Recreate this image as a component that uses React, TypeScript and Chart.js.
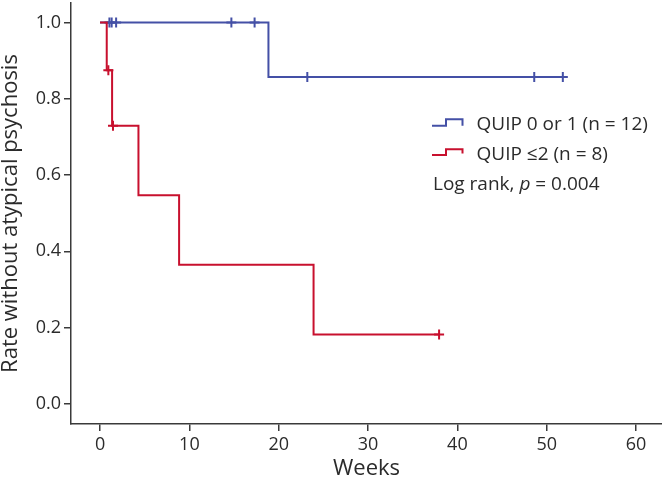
import React, { useEffect, useRef } from "react";
import { Chart, registerables } from "chart.js";

Chart.register(...registerables);

// ---- data ----
const xTicks = [0, 10, 20, 30, 40, 50, 60];
const yTicks = [0, 0.2, 0.4, 0.6, 0.8, 1.0];

const blueTimes = [0, 18.85, 51.8];
const blueSurv = [1, 0.857, 0.857];
const blueCensorTimes = [1.05, 1.3, 1.8, 14.7, 17.3, 23.2, 48.6, 51.8];
const blueCensorSurv = [1, 1, 1, 1, 1, 0.857, 0.857, 0.857];

const redTimes = [0, 0.75, 1.35, 4.3, 8.85, 23.9, 37.95];
const redSurv = [1, 0.875, 0.729, 0.547, 0.365, 0.182, 0.182];
const redCensorTimes = [0.93, 1.45, 37.95];
const redCensorSurv = [0.875, 0.729, 0.182];

const legendLabels = ["QUIP 0 or 1 (n = 12)", "QUIP \u22642 (n = 8)"];
const statParts = ["Log rank, ", "p", " = 0.004"];

const BLUE = "#4450a6";
const RED = "#c8102e";
const AXIS = "#3a3a3a";
const TEXT = "#2b2b2b";
const FONT = "'Open Sans', sans-serif";

const pts = (xs: number[], ys: number[]) => xs.map((x, i) => ({ x, y: ys[i] }));

const legendPlugin = {
  id: "kmLegend",
  afterDraw(chart: any) {
    const ctx = chart.ctx as CanvasRenderingContext2D;
    ctx.save();
    const colors = [BLUE, RED];
    const baselines = [130, 159.5];
    const lowY = [125.7, 155];
    const highY = [119.3, 149.3];
    for (let i = 0; i < 2; i++) {
      ctx.strokeStyle = colors[i];
      ctx.lineWidth = 2;
      ctx.beginPath();
      ctx.moveTo(432, lowY[i]);
      ctx.lineTo(446, lowY[i]);
      ctx.lineTo(446, highY[i]);
      ctx.lineTo(462.5, highY[i]);
      ctx.lineTo(462.5, lowY[i] - (i === 1 ? 1.5 : 0));
      ctx.stroke();
      ctx.fillStyle = TEXT;
      ctx.font = `19px ${FONT}`;
      ctx.textBaseline = "alphabetic";
      ctx.textAlign = "left";
      ctx.fillText(legendLabels[i], 476.5, baselines[i]);
    }
    let x = 433;
    const by = 189.5;
    ctx.fillStyle = TEXT;
    ctx.font = `19px ${FONT}`;
    ctx.fillText(statParts[0], x, by);
    x += ctx.measureText(statParts[0]).width;
    ctx.font = `italic 19px ${FONT}`;
    ctx.fillText(statParts[1], x, by);
    x += ctx.measureText(statParts[1]).width;
    ctx.font = `19px ${FONT}`;
    ctx.fillText(statParts[2], x, by);
    ctx.restore();
  },
};

const zeroPad = (s: any) => {
  s.paddingTop = 0;
  s.paddingBottom = 0;
  s.paddingLeft = 0;
  s.paddingRight = 0;
};

export default function App() {
  const ref = useRef<HTMLCanvasElement | null>(null);

  useEffect(() => {
    if (!ref.current) return;
    const chart = new Chart(ref.current, {
      type: "line",
      data: {
        datasets: [
          {
            type: "line",
            data: pts(redTimes, redSurv),
            stepped: "before",
            borderColor: RED,
            borderWidth: 2,
            pointRadius: 0,
            fill: false,
            order: 0,
          },
          {
            type: "scatter",
            data: pts(redCensorTimes, redCensorSurv),
            pointStyle: "cross",
            pointRadius: 5,
            borderColor: RED,
            borderWidth: 2,
            showLine: false,
            order: 0,
          },
          {
            type: "line",
            data: pts(blueTimes, blueSurv),
            stepped: "before",
            borderColor: BLUE,
            borderWidth: 2,
            pointRadius: 0,
            fill: false,
            order: 1,
          },
          {
            type: "scatter",
            data: pts(blueCensorTimes, blueCensorSurv),
            pointStyle: "cross",
            pointRadius: 5,
            borderColor: BLUE,
            borderWidth: 2,
            showLine: false,
            order: 1,
          },
        ] as any,
      },
      options: {
        animation: false,
        responsive: false,
        devicePixelRatio: 1,
        layout: { autoPadding: false, padding: { top: 3, right: 0, left: 0, bottom: 0 } },
        plugins: {
          legend: { display: false },
          tooltip: { enabled: false },
        },
        scales: {
          x: {
            type: "linear",
            min: -3.25,
            max: 62.9,
            afterBuildTicks: (s: any) => {
              s.ticks = xTicks.map((v) => ({ value: v }));
            },
            afterFit: (s: any) => {
              s.height = 56;
              zeroPad(s);
            },
            grid: {
              drawOnChartArea: false,
              drawTicks: true,
              tickLength: 7,
              color: AXIS,
              lineWidth: 1.5,
            },
            border: { display: true, color: AXIS, width: 1.5 },
            ticks: {
              color: TEXT,
              font: { size: 18, family: FONT },
              padding: 3,
              maxRotation: 0,
              callback: (v: any) => String(v),
            },
            title: {
              display: true,
              text: "Weeks",
              color: TEXT,
              font: { size: 22, family: FONT, lineHeight: 1 },
              padding: { top: 0, bottom: 0 },
            },
          },
          y: {
            type: "linear",
            min: -0.0525,
            max: 1.051,
            afterBuildTicks: (s: any) => {
              s.ticks = yTicks.map((v) => ({ value: v }));
            },
            afterFit: (s: any) => {
              s.width = 71;
              zeroPad(s);
            },
            grid: {
              drawOnChartArea: false,
              drawTicks: true,
              tickLength: 7,
              color: AXIS,
              lineWidth: 1.5,
            },
            border: { display: true, color: AXIS, width: 1.5 },
            ticks: {
              color: TEXT,
              font: { size: 18, family: FONT },
              padding: 3,
              callback: (v: any) => Number(v).toFixed(1),
            },
            title: {
              display: true,
              text: "Rate without atypical psychosis",
              color: TEXT,
              font: { size: 22, family: FONT, lineHeight: 1 },
              padding: { top: 0, bottom: 0 },
            },
          },
        },
      } as any,
      plugins: [legendPlugin],
    });
    return () => chart.destroy();
  }, []);

  return (
    <div style={{ position: "absolute", left: 0, top: 0, width: 662, height: 480, background: "#fff" }}>
      <canvas ref={ref} width={662} height={480} style={{ width: 662, height: 480, display: "block" }} />
    </div>
  );
}
